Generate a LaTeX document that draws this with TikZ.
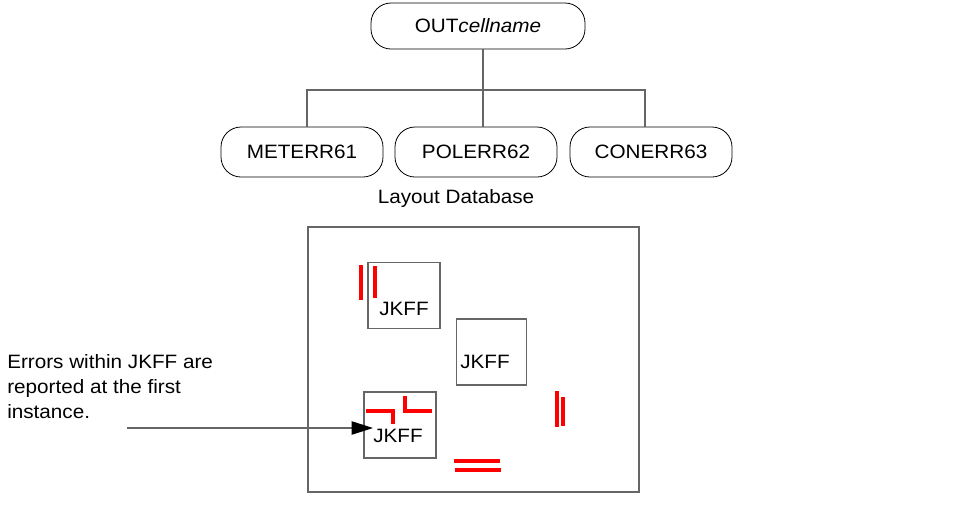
\documentclass[tikz,border=0pt]{standalone}
\usepackage{fontspec}
\setmainfont[FakeStretch=1.07]{Liberation Sans}
\usetikzlibrary{arrows.meta}

\tikzset{
  cellnode/.style={draw, line width=0.6pt, rounded corners=15pt, minimum width=121.5pt, minimum height=37.5pt, inner sep=0pt},
  cellbox/.style={draw=black!60, line width=0.9pt},
  errmark/.style={draw=red, line width=3pt},
  treeline/.style={draw=black!60, line width=0.9pt}
}

\begin{document}
\begin{tikzpicture}[x=0.75pt, y=-0.75pt, font=\fontsize{14.5}{18.75}\selectfont]
        \useasboundingbox (0,0) rectangle (963,519);
        % hierarchy
        \node[cellnode, minimum width=160.5pt, minimum height=34.5pt] at (478,26) (out) {OUT\textit{cellname}\hspace{10pt}};
        \node[cellnode] at (302,152) (meterr) {METERR61\hspace{9pt}};
        \node[cellnode] at (476,152) (polerr) {POLERR62};
        \node[cellnode] at (651,152) (conerr) {CONERR63\hspace{9pt}};
        \coordinate (bus) at (483,90);
        \draw[treeline] (bus |- out.south) -- (bus);
        \draw[treeline] (bus) -- (bus |- polerr.north);
        \draw[treeline] ([xshift=3.75pt]meterr.north) |- (bus) -| ([xshift=-4.5pt]conerr.north);
        \node[anchor=base, inner sep=0pt] at (456,203) (db) {Layout Database};
        % layout
        \draw[cellbox] (308,227) rectangle (639,492);
        \node[cellbox, minimum width=54pt, minimum height=49pt] at (404,295.5) (jkff1) {};
        \node[cellbox, minimum width=53pt, minimum height=49.5pt] at (491.5,352) (jkff2) {};
        \node[cellbox, minimum width=54pt, minimum height=49.5pt] at (400,425) (jkff3) {};
        \node[anchor=base west, inner sep=0pt] at (379,315) (t1) {JKFF};
        \node[anchor=base west, inner sep=0pt] at (460,368) (t2) {JKFF};
        \node[anchor=base west, inner sep=0pt] at (373,442) (t3) {JKFF};
        % errors
        \draw[errmark] (361,265) -- (361,300);
        \draw[errmark] (375,266) -- (375,298);
        \draw[errmark] (366,411) -- (393,411) -- (393,424);
        \draw[errmark] (405,396) -- (405,411) -- (432,411);
        \draw[errmark] (557,391) -- (557,427);
        \draw[errmark] (563,397) -- (563,426);
        \draw[errmark] (454,461) -- (500,461);
        \draw[errmark] (455,470) -- (501,470);
        % note
        \node[anchor=north west, align=left, inner sep=0pt] at (7,354) (note) {Errors within JKFF are\\reported at the first\\instance.};
        \coordinate (tail) at (127,428);
        \draw[treeline, -{Triangle[length=16pt, width=10pt, color=black]}] (tail) -- (tail -| t3.west);
    \end{tikzpicture}
\end{document}
